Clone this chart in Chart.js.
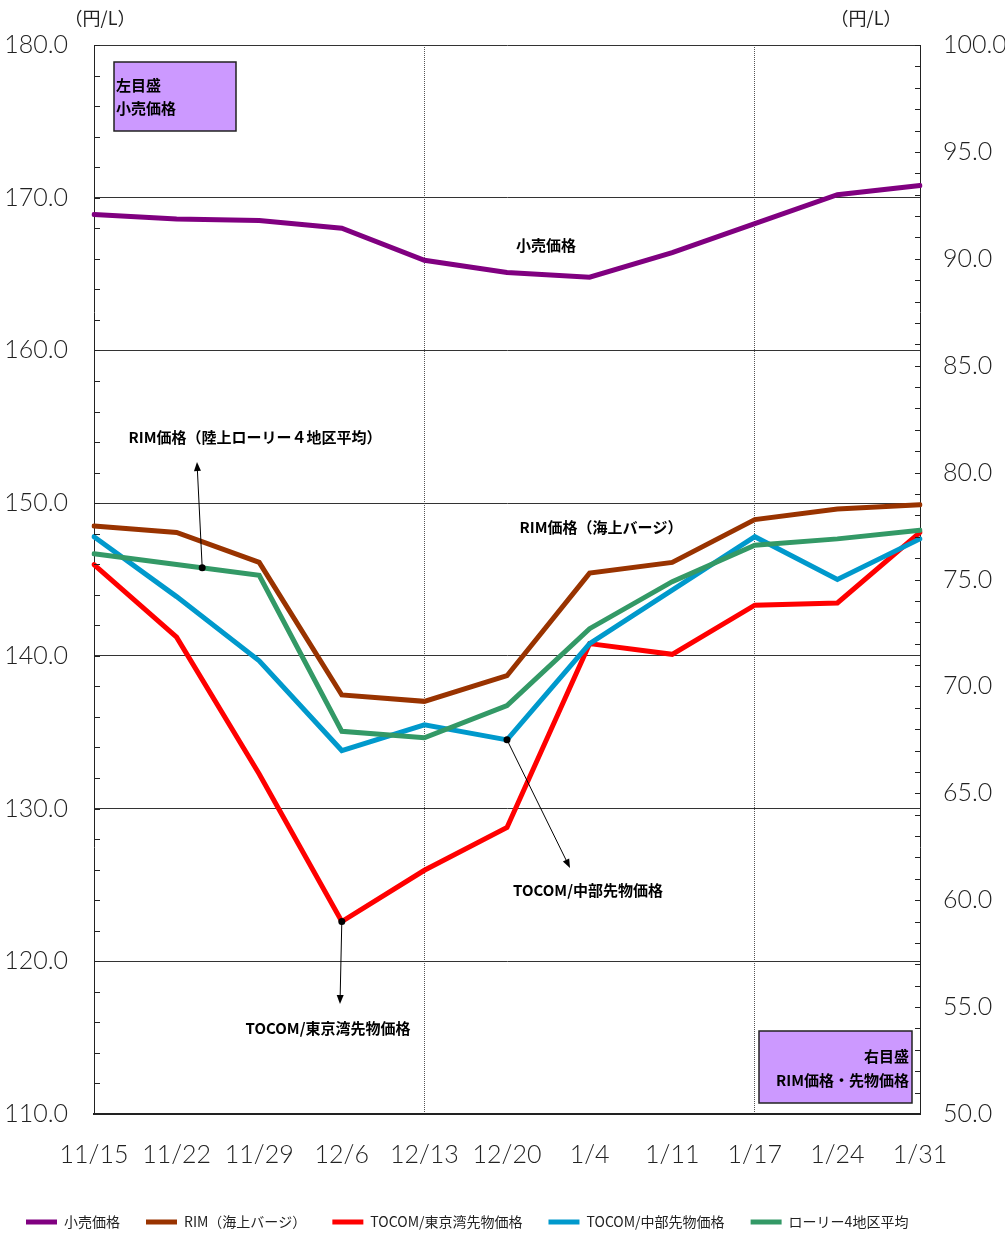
<!DOCTYPE html>
<html>
<head>
<meta charset="utf-8">
<script src="https://cdn.jsdelivr.net/npm/chart.js@4"></script>
<style>
  body { margin: 0; background: #fff; }
  canvas { display: block; }
</style>
</head>
<body>
<canvas id="chart" width="1005" height="1234"></canvas>
<script>
// data
const categories = ['11/15', '11/22', '11/29', '12/6', '12/13', '12/20', '1/4', '1/11', '1/17', '1/24', '1/31'];
const retail = [168.9, 168.6, 168.5, 168.0, 165.9, 165.1, 164.8, 166.4, 168.3, 170.2, 170.8];   // left axis
const rimBarge = [77.5, 77.2, 75.8, 69.6, 69.3, 70.5, 75.3, 75.8, 77.8, 78.3, 78.5];
const tocomTokyo = [75.7, 72.3, 65.9, 59.0, 61.4, 63.4, 72.0, 71.5, 73.8, 73.9, 77.2];
const tocomChubu = [77.0, 74.2, 71.2, 67.0, 68.2, 67.5, 72.0, 74.5, 77.0, 75.0, 76.9];
const lorryAvg = [76.2, 75.7, 75.2, 67.9, 67.6, 69.1, 72.7, 74.9, 76.6, 76.9, 77.3];
const seriesNames = ['小売価格', 'RIM（海上バージ）', 'TOCOM/東京湾先物価格', 'TOCOM/中部先物価格', 'ローリー4地区平均'];

const numFont = "Lato, 'Liberation Sans', sans-serif";
const jpFont = "'Noto Sans CJK JP', 'Noto Sans', sans-serif";

Chart.defaults.font.family = jpFont;
Chart.defaults.color = '#222';

function drawArrow(ctx, x1, y1, x2, y2) {
  const a = Math.atan2(y2 - y1, x2 - x1);
  ctx.beginPath();
  ctx.moveTo(x1, y1);
  ctx.lineTo(x2 - 6 * Math.cos(a), y2 - 6 * Math.sin(a));
  ctx.stroke();
  ctx.beginPath();
  ctx.moveTo(x2, y2);
  ctx.lineTo(x2 - 9 * Math.cos(a) + 3.5 * Math.sin(a), y2 - 9 * Math.sin(a) - 3.5 * Math.cos(a));
  ctx.lineTo(x2 - 9 * Math.cos(a) - 3.5 * Math.sin(a), y2 - 9 * Math.sin(a) + 3.5 * Math.cos(a));
  ctx.closePath();
  ctx.fill();
}

function dot(ctx, x, y) {
  ctx.beginPath();
  ctx.arc(x, y, 3.5, 0, Math.PI * 2);
  ctx.fill();
}

const extras = {
  id: 'extras',
  afterDraw(chart) {
    const ctx = chart.ctx;
    const area = chart.chartArea;
    const yl = chart.scales.y, yr = chart.scales.y1;
    ctx.save();

    // inward minor ticks
    ctx.strokeStyle = '#222';
    ctx.lineWidth = 1;
    yl.ticks.forEach(t => {
      const y = Math.round(yl.getPixelForValue(t.value)) + 0.5;
      ctx.beginPath(); ctx.moveTo(area.left, y); ctx.lineTo(area.left + 6, y); ctx.stroke();
    });
    yr.ticks.forEach(t => {
      const y = Math.round(yr.getPixelForValue(t.value)) + 0.5;
      ctx.beginPath(); ctx.moveTo(area.right - 5, y); ctx.lineTo(area.right, y); ctx.stroke();
    });

    // unit labels
    ctx.fillStyle = '#222';
    ctx.font = '18px ' + jpFont;
    ctx.textAlign = 'center';
    ctx.textBaseline = 'middle';
    ctx.fillText('（円/L）', 100, 18);
    ctx.fillText('（円/L）', 866, 18);

    // scale boxes
    ctx.fillStyle = '#cc99ff';
    ctx.strokeStyle = '#222';
    ctx.lineWidth = 1.5;
    ctx.fillRect(114, 62, 122, 69);
    ctx.strokeRect(114, 62, 122, 69);
    ctx.fillRect(759, 1031, 153, 72);
    ctx.strokeRect(759, 1031, 153, 72);

    ctx.fillStyle = '#000';
    ctx.font = 'bold 15px ' + jpFont;
    ctx.textAlign = 'left';
    ctx.fillText('左目盛', 116, 85);
    ctx.fillText('小売価格', 116, 108);
    ctx.textAlign = 'right';
    ctx.fillText('右目盛', 909, 1056);
    ctx.fillText('RIM価格・先物価格', 909, 1080);

    // series labels
    ctx.textAlign = 'center';
    ctx.fillText('小売価格', 546, 245);
    ctx.fillText('RIM価格（陸上ローリー４地区平均）', 255, 437);
    ctx.fillText('RIM価格（海上バージ）', 601, 527);
    ctx.fillText('TOCOM/中部先物価格', 588, 890);
    ctx.fillText('TOCOM/東京湾先物価格', 328, 1028);

    // leader arrows anchored on the data
    ctx.strokeStyle = '#000';
    ctx.lineWidth = 1;
    const green = chart.getDatasetMeta(4).data;
    const t = 0.31;
    const gx = green[1].x + (green[2].x - green[1].x) * t;
    const gy = green[1].y + (green[2].y - green[1].y) * t;
    dot(ctx, gx, gy);
    drawArrow(ctx, gx, gy, 197, 462);

    const blue = chart.getDatasetMeta(3).data[5];
    dot(ctx, blue.x, blue.y);
    drawArrow(ctx, blue.x, blue.y, 570, 868);

    const red = chart.getDatasetMeta(2).data[3];
    dot(ctx, red.x, red.y);
    drawArrow(ctx, red.x, red.y, 340, 1004);

    ctx.restore();
  }
};

function series(label, data, color, axis, order) {
  return {
    label: label,
    data: data,
    borderColor: color,
    backgroundColor: color,
    borderWidth: 5,
    borderCapStyle: 'round',
    tension: 0,
    pointRadius: 0,
    yAxisID: axis,
    order: order
  };
}

const tickFont = { size: 25, family: numFont, weight: '300' };

new Chart(document.getElementById('chart'), {
  type: 'line',
  data: {
    labels: categories,
    datasets: [
      series(seriesNames[0], retail, '#800080', 'y', 5),
      series(seriesNames[1], rimBarge, '#993300', 'y1', 4),
      series(seriesNames[2], tocomTokyo, '#ff0000', 'y1', 3),
      series(seriesNames[3], tocomChubu, '#0099cc', 'y1', 2),
      series(seriesNames[4], lorryAvg, '#339966', 'y1', 1)
    ]
  },
  options: {
    responsive: false,
    animation: false,
    layout: { padding: { top: 45, left: 0, right: 0, bottom: 0 } },
    plugins: {
      tooltip: { enabled: false },
      legend: {
        position: 'bottom',
        align: 'start',
        maxHeight: 45,
        labels: {
          usePointStyle: true,
          pointStyle: 'line',
          pointStyleWidth: 31,
          padding: 26,
          color: '#222',
          font: { size: 14, family: jpFont },
          sort: (a, b) => a.datasetIndex - b.datasetIndex
        }
      }
    },
    scales: {
      x: {
        afterFit: s => { s.height = 75; },
        grid: {
          drawTicks: false,
          color: c => (c.index === 4 || c.index === 8) ? '#555' : 'rgba(0,0,0,0)',
          lineWidth: 1
        },
        border: { color: '#222', width: 2, dash: [1, 1] },
        ticks: {
          padding: 26,
          maxRotation: 0,
          autoSkip: false,
          color: '#222',
          font: tickFont
        }
      },
      y: {
        position: 'left',
        min: 110,
        max: 180,
        afterFit: s => { s.width = 94; },
        grid: {
          drawTicks: false,
          color: c => (c.tick && c.tick.value % 10 === 0) ? '#333' : 'rgba(0,0,0,0)',
          lineWidth: 1
        },
        border: { color: '#222', width: 1 },
        ticks: {
          stepSize: 2,
          autoSkip: false,
          padding: 26,
          color: '#222',
          font: tickFont,
          callback: v => v % 10 === 0 ? v.toFixed(1) : ''
        }
      },
      y1: {
        position: 'right',
        min: 50,
        max: 100,
        afterFit: s => { s.width = 85; },
        grid: { drawOnChartArea: false, drawTicks: false },
        border: { color: '#222', width: 1 },
        ticks: {
          stepSize: 1,
          autoSkip: false,
          padding: 23,
          color: '#222',
          font: tickFont,
          callback: v => v % 5 === 0 ? v.toFixed(1) : ''
        }
      }
    }
  },
  plugins: [extras]
});
</script>
</body>
</html>
